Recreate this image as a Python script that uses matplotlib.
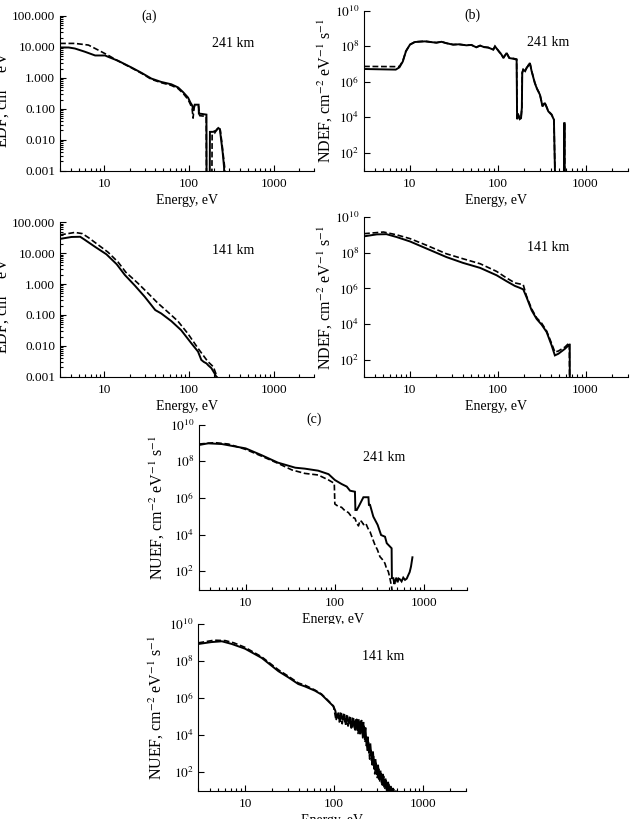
import numpy as np
import matplotlib
matplotlib.use("Agg")
from matplotlib import pyplot as plt
from matplotlib.ticker import FixedLocator, NullLocator, FixedFormatter, NullFormatter

plt.rcParams['font.family'] = ['Liberation Serif', 'DejaVu Serif']
plt.rcParams['mathtext.fontset'] = 'stix'

# ---- (a) EDF, 241 km ----
a241_e_sol = [3.0, 3.8, 4.5, 5.9, 7.8, 10.2, 11.1, 14.6, 21, 27.6, 36, 47, 62, 74.5, 85, 97.7,
              104, 109, 113, 117, 130, 131, 134, 161, 162, 175, 177, 193, 210, 222, 232, 240,
              250, 260, 268]
a241_y_sol = [9.6, 9.6, 8.9, 7.0, 5.3, 5.3, 4.8, 3.56, 2.16, 1.45, 0.95, 0.74, 0.62, 0.49, 0.35, 0.23,
              0.16, 0.13, 0.09, 0.136, 0.136, 0.07, 0.07, 0.065, 1e-5, 1e-5, 0.018, 0.018, 0.02, 0.024,
              0.022, 0.01, 0.004, 0.0013, 1e-5]
a241_e_dash = [3.0, 4.5, 6.5, 8.5, 11.1, 14.6, 21, 27.6, 36, 47, 62, 74.5, 85, 97.7, 104, 109,
               112, 115, 120, 130, 134, 150, 160, 162, 185, 188, 200, 215, 225, 235, 245, 255, 265, 270]
a241_y_dash = [13, 13, 11.5, 7.9, 5.4, 3.5, 2.1, 1.4, 0.9, 0.7, 0.57, 0.45, 0.32, 0.2, 0.14, 0.1,
               0.05, 0.12, 0.12, 0.12, 0.06, 0.058, 0.055, 1e-5, 1e-5, 0.015, 0.016, 0.022, 0.025,
               0.02, 0.008, 0.003, 0.0012, 1e-5]

# ---- (a) EDF, 141 km ----
a141_e_sol = [3.0, 4.1, 5.2, 5.9, 7.8, 10.6, 14, 17.5, 23, 30, 40, 47, 62, 81, 107, 128, 135,
              140, 150, 161, 170, 184, 200, 215]
a141_y_sol = [29, 33.5, 34, 27, 16, 9.2, 4.4, 1.97, 0.89, 0.39, 0.144, 0.112, 0.063, 0.032, 0.012,
              0.0065, 0.0045, 0.0035, 0.003, 0.0027, 0.0023, 0.0019, 0.0013, 0.0009]
a141_e_dash = [3.0, 4.5, 5.5, 6.5, 8.5, 11.1, 14.6, 18, 25, 33, 43, 57, 74, 97, 128, 167, 194, 218]
a141_y_dash = [39, 47, 43, 32, 18.5, 10.7, 5.1, 2.4, 1.06, 0.5, 0.24, 0.121, 0.063, 0.025, 0.0083,
               0.0031, 0.0021, 0.0009]

# ---- (b) NDEF, 241 km ----
b241_e = [3.0, 6.9, 7.6, 8.3, 9.0, 10, 11.4, 14.8, 20, 22.9, 26, 31, 36, 44, 50, 57, 63, 70, 78,
          89, 93, 104, 110, 116, 126, 135, 150, 164, 166, 170, 178, 184, 188, 190, 195, 205, 213,
          222, 232, 243, 264, 280, 302, 323, 344, 376, 410, 436, 452, 565, 572, 576, 580]
b241_y_sol = [5.3e6, 4.9e6, 6.6e6, 1.4e7, 5.2e7, 1.24e8, 1.75e8, 1.9e8, 1.6e8, 1.8e8, 1.5e8,
              1.24e8, 1.3e8, 1.14e8, 1.2e8, 8.8e7, 1.1e8, 9e7, 8.5e7, 6.5e7, 1.0e8, 4.8e7, 3.5e7,
              2.2e7, 4.2e7, 2.2e7, 2e7, 1.8e7, 8e3, 1.5e4, 8e3, 9e3, 3.4e4, 3.2e6, 4.9e6, 4e6, 6e6,
              8e6, 1.15e7, 4e6, 8.7e5, 4e5, 1.9e5, 4.2e4, 6.5e4, 2.2e4, 1.4e4, 7.4e3, 1, 1, 4.8e3,
              4.8e3, 1]
b241_y_dash = [7.4e6, 7.2e6, 7.4e6, 1.5e7, 5.4e7, 1.26e8, 1.8e8, 1.95e8, 1.62e8, 1.82e8, 1.5e8,
               1.26e8, 1.3e8, 1.16e8, 1.2e8, 9e7, 1.1e8, 9.2e7, 8.6e7, 6.6e7, 1.0e8, 5e7, 3.6e7,
               2.3e7, 4.3e7, 2.3e7, 2.1e7, 1.9e7, 8.5e3, 1.6e4, 8.5e3, 9.5e3, 3.5e4, 3.3e6, 5e6,
               4.2e6, 6.2e6, 8.3e6, 1.2e7, 4.2e6, 9e5, 4.2e5, 2e5, 4.4e4, 6.8e4, 2.3e4, 1.5e4,
               7.8e3, 1, 1, 4.8e3, 4.8e3, 1]

# ---- (b) NDEF, 141 km ----
b141_e_sol = [3.0, 4.2, 5.4, 7.05, 10, 15.5, 26, 40, 63, 97, 126, 157, 175, 195, 212, 243, 277,
              316, 360, 410, 447, 490, 582, 652, 660, 661]
b141_y_sol = [8.3e8, 1.07e9, 1.1e9, 7.6e8, 4.3e8, 1.7e8, 5.7e7, 2.7e7, 1.4e7, 5.4e6, 2.5e6,
              1.35e6, 1.1e6, 8.7e5, 3.3e5, 5.8e4, 1.9e4, 9e3, 3.5e3, 6.3e2, 1.7e2, 2.1e2, 4e2,
              6.8e2, 6.8e2, 1]
b141_e_dash = [3.0, 5.0, 7.0, 10, 15.5, 26, 40, 63, 97, 126, 157, 195, 212, 243, 277, 316, 360,
               410, 447, 490, 582, 652, 660]
b141_y_dash = [1.17e9, 1.45e9, 1.02e9, 6.2e8, 2.6e8, 8.7e7, 4.6e7, 2.4e7, 8.9e6, 3.8e6, 2.0e6,
               1.6e6, 3.8e5, 7e4, 2.2e4, 1.1e4, 4e3, 8e2, 2.6e2, 3e2, 5e2, 8.7e2, 1]

# ---- (c) NUEF, 241 km ----
c241_e_sol = [3.0, 3.8, 5.4, 10, 15, 23, 36, 46, 65, 85, 100, 119, 136, 148, 168, 170, 176, 186,
              209, 238, 241, 248, 270, 302, 330, 365, 382, 433, 436, 453, 465, 473, 490, 505, 520,
              538, 560, 585, 612, 640, 667, 690, 714, 741]
c241_y_sol = [7.8e8, 9.6e8, 8.8e8, 5.1e8, 2.2e8, 8.5e7, 4.5e7, 4e7, 3.1e7, 2e7, 9.6e6, 5.8e6,
              4.2e6, 2.5e6, 2.2e6, 2.2e5, 2.2e5, 3.6e5, 1.1e6, 1.1e6, 4.2e5, 4.2e5, 9.6e4, 3.4e4,
              9.5e3, 7.7e3, 3.4e3, 1.8e3, 42, 42, 20, 28, 45, 25, 40, 36, 28, 45, 34, 40, 63, 90,
              180, 580]
c241_e_dash = [3.0, 4.5, 6.4, 10, 15, 23, 33, 46, 65, 85, 98.6, 100, 108, 119, 130, 142, 155, 168,
               176, 184, 192, 200, 210, 222, 235, 248, 265, 282, 300, 320, 340, 364, 380, 398, 415,
               433, 445]
c241_y_dash = [8.8e8, 1.05e9, 8.8e8, 4.5e8, 1.95e8, 7.8e7, 3.4e7, 2.2e7, 1.8e7, 9.6e6, 6.3e6,
               4.7e5, 3.6e5, 3.1e5, 2.0e5, 1.6e5, 9e4, 7.8e4, 4.2e4, 3e4, 6e4, 5.1e4, 3.5e4, 4.2e4,
               2.2e4, 1.45e4, 6e3, 2.7e3, 1.5e3, 630, 450, 275, 140, 96, 40, 14, 5]

# ---- (c) NUEF, 141 km ----
c141_e_sol = [3.0, 4.2, 5.5, 7.1, 10, 15.4, 23.7, 30.6, 39.6, 47, 61, 72, 86, 98, 103, 107, 112,
              116, 120, 125, 130, 135, 140, 146, 152, 158, 164, 170, 176, 182, 188, 194, 200, 206,
              212, 218, 224, 231, 238, 246, 254, 263, 272, 281, 290, 300, 310, 320, 330, 341, 352,
              364, 376, 389, 402, 415, 428, 442, 456, 470, 490, 515]
c141_y_sol = [7.9e8, 1e9, 1.1e9, 7.9e8, 4.4e8, 1.4e8, 2.7e7, 1.26e7, 5.5e6, 4.1e6, 2.4e6, 1.5e6,
              6.5e5, 3.5e5, 2e5, 8e4, 1.6e5, 5e4, 1.5e5, 6e4, 1.3e5, 3.5e4, 1.1e5, 4e4, 9e4, 2.5e4,
              8e4, 2.5e4, 7e4, 1.8e4, 7e4, 1.1e4, 6e4, 1.3e4, 5e4, 8e3, 2.5e4, 2.5e3, 8e3, 1e3,
              3.5e3, 4e2, 1.3e3, 1.5e2, 5e2, 70, 2.5e2, 40, 120, 25, 80, 15, 45, 10, 30, 8, 18, 6,
              14, 5, 10, 5]
c141_e_dash = [3.0, 4.5, 6.0, 7.5, 10, 15.4, 23.7, 30.6, 39.6, 47, 61, 72, 86, 98, 101, 105, 109,
               114, 118, 123, 128, 133, 138, 143, 149, 155, 161, 167, 173, 179, 185, 191, 197, 203,
               209, 215, 221, 228, 235, 242, 250, 258, 267, 276, 285, 295, 305, 315, 325, 336, 347,
               358, 370, 382, 395, 408, 421, 435, 449, 463, 480, 500]
c141_y_dash = [9.1e8, 1.26e9, 1.2e9, 9.1e8, 5.2e8, 1.6e8, 3.2e7, 1.45e7, 6.3e6, 4.8e6, 2.6e6,
               1.6e6, 7e5, 3.6e5, 1.7e5, 6e4, 1.6e5, 5e4, 1.5e5, 4e4, 1.3e5, 5e4, 1.1e5, 3e4, 9e4,
               2e4, 8e4, 3e4, 1.5e4, 7e4, 1.2e4, 5e4, 1e4, 6e4, 7e3, 3e4, 4e3, 1e4, 1.5e3, 4e3,
               5e2, 1.8e3, 2e2, 7e2, 80, 3e2, 50, 1.5e2, 30, 100, 20, 60, 12, 35, 8, 22, 6, 16,
               5, 12, 7, 5]

W, H = 630, 819
fig = plt.figure(figsize=(6.3, 8.19), dpi=100)


def make_ax(left, top, right, bottom):
    # pixel box -> figure fraction
    return fig.add_axes([left / W, 1 - bottom / H, (right - left) / W, (bottom - top) / H])


def style_ax(ax, kind, ylabel, label_x):
    ax.set_xscale('log')
    ax.set_yscale('log')
    ax.set_xlim(3, 3000)
    ax.spines['top'].set_visible(False)
    ax.spines['right'].set_visible(False)
    ax.xaxis.set_major_locator(FixedLocator([10, 100, 1000]))
    ax.xaxis.set_major_formatter(FixedFormatter(['10', '100', '1000']))
    minors = [m * d for d in (1, 10, 100, 1000) for m in range(2, 10)]
    ax.xaxis.set_minor_locator(FixedLocator([v for v in minors if 3 <= v <= 3000]))
    ax.xaxis.set_minor_formatter(NullFormatter())
    if kind == 'edf':
        ax.set_ylim(0.001, 100)
        ticks = [0.001, 0.01, 0.1, 1, 10, 100]
        ax.yaxis.set_major_locator(FixedLocator(ticks))
        ax.yaxis.set_major_formatter(FixedFormatter(['%.3f' % t for t in ticks]))
        ym = [m * d for d in (0.001, 0.01, 0.1, 1, 10) for m in range(2, 10)]
        ax.yaxis.set_minor_locator(FixedLocator(ym))
    else:
        ax.set_ylim(10, 1e10)
        ax.yaxis.set_major_locator(FixedLocator([1e2, 1e4, 1e6, 1e8, 1e10]))
        ax.yaxis.set_major_formatter(FixedFormatter(['$10^{2}$', '$10^{4}$', '$10^{6}$',
                                                     '$10^{8}$', '$10^{10}$']))
        ax.yaxis.set_minor_locator(NullLocator())
    ax.yaxis.set_minor_formatter(NullFormatter())
    ax.tick_params(which='both', direction='in', labelsize=9.5, width=0.8)
    ax.tick_params(which='major', length=4.5)
    ax.tick_params(axis='x', which='major', pad=5)
    ax.tick_params(which='minor', length=2.5)
    ax.set_xlabel('Energy, eV', fontsize=10, labelpad=3)
    ax.set_ylabel(ylabel, fontsize=11.5)
    ax.yaxis.set_label_coords(label_x, 0.5)


def draw(ax, es, ys, ed, yd):
    ax.plot(es, ys, color='k', lw=1.4, solid_joinstyle='miter')
    ax.plot(ed, yd, color='k', lw=1.2, dashes=(3.5, 1.6))


edf_label = 'EDF, cm$^{-3}$ eV$^{-1}$'
ndef_label = 'NDEF, cm$^{-2}$ eV$^{-1}$ s$^{-1}$'
nuef_label = 'NUEF, cm$^{-2}$ eV$^{-1}$ s$^{-1}$'

ax1 = make_ax(60, 16, 314, 170.7)
draw(ax1, a241_e_sol, a241_y_sol, a241_e_dash, a241_y_dash)
style_ax(ax1, 'edf', edf_label, -0.19)
ax1.text(0.35, 1.0, '(a)', transform=ax1.transAxes, ha='center', va='center', fontsize=10)
ax1.text(0.68, 0.82, '241 km', transform=ax1.transAxes, ha='center', va='center', fontsize=10)

ax2 = make_ax(364, 10.8, 627.5, 170.7)
draw(ax2, b241_e, b241_y_sol, b241_e, b241_y_dash)
style_ax(ax2, 'ndef', ndef_label, -0.11)
ax2.text(0.41, 0.97, '(b)', transform=ax2.transAxes, ha='center', va='center', fontsize=10)
ax2.text(0.70, 0.80, '241 km', transform=ax2.transAxes, ha='center', va='center', fontsize=10)

ax3 = make_ax(60, 222.3, 314, 376.7)
draw(ax3, a141_e_sol, a141_y_sol, a141_e_dash, a141_y_dash)
style_ax(ax3, 'edf', edf_label, -0.19)
ax3.text(0.68, 0.82, '141 km', transform=ax3.transAxes, ha='center', va='center', fontsize=10)

ax4 = make_ax(364, 217.1, 627.5, 377.3)
draw(ax4, b141_e_sol, b141_y_sol, b141_e_dash, b141_y_dash)
style_ax(ax4, 'ndef', ndef_label, -0.11)
ax4.text(0.70, 0.81, '141 km', transform=ax4.transAxes, ha='center', va='center', fontsize=10)

ax5 = make_ax(199, 424.7, 466.6, 589.6)
draw(ax5, c241_e_sol, c241_y_sol, c241_e_dash, c241_y_dash)
style_ax(ax5, 'ndef', nuef_label, -0.12)
ax5.text(0.43, 1.03, '(c)', transform=ax5.transAxes, ha='center', va='center', fontsize=10)
ax5.text(0.69, 0.80, '241 km', transform=ax5.transAxes, ha='center', va='center', fontsize=10)

ax6 = make_ax(198.4, 623.5, 465.9, 790.7)
draw(ax6, c141_e_sol, c141_y_sol, c141_e_dash, c141_y_dash)
style_ax(ax6, 'ndef', nuef_label, -0.12)
ax6.text(0.69, 0.80, '141 km', transform=ax6.transAxes, ha='center', va='center', fontsize=10)

fig.savefig('out.png', dpi=100)
